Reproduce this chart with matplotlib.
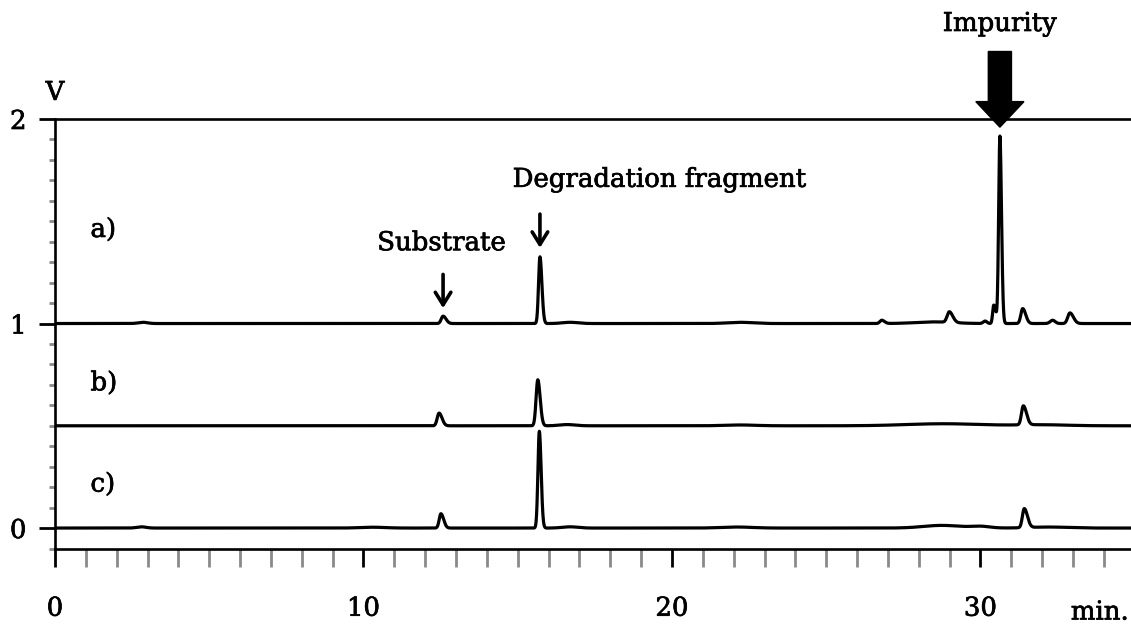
import numpy as np
import matplotlib
matplotlib.use("Agg")
import matplotlib.pyplot as plt
import matplotlib.patheffects as pe

# Retention-time axis (min)
time = np.arange(0.0, 35.0, 0.005)

# Peak tables: retention time (min), height (V), width sigma (min), tailing ratio
a_pos    = [2.85, 12.58, 15.72, 16.7, 22.2, 26.8, 28.5, 28.99, 30.15, 30.43, 30.63, 31.37, 32.34, 32.9]
a_height = [0.006, 0.036, 0.326, 0.006, 0.006, 0.016, 0.008, 0.052, 0.012, 0.09, 0.915, 0.073, 0.016, 0.052]
a_sigma  = [0.15, 0.06, 0.045, 0.25, 0.4, 0.06, 0.6, 0.07, 0.06, 0.035, 0.04, 0.06, 0.08, 0.07]
a_tail   = [1.0, 1.6, 1.4, 1.0, 1.0, 1.5, 1.0, 1.6, 1.0, 2.0, 1.3, 1.6, 1.0, 1.6]

b_pos    = [12.45, 15.65, 16.6, 22.2, 28.8, 31.39, 32.0]
b_height = [0.062, 0.225, 0.006, 0.004, 0.01, 0.093, 0.005]
b_sigma  = [0.06, 0.055, 0.25, 0.5, 1.2, 0.06, 0.8]
b_tail   = [1.6, 1.4, 1.0, 1.0, 1.0, 1.7, 1.0]

c_pos    = [2.8, 10.3, 12.51, 15.7, 16.7, 22.1, 28.75, 30.0, 31.42, 32.2]
c_height = [0.006, 0.004, 0.07, 0.473, 0.006, 0.005, 0.013, 0.008, 0.093, 0.005]
c_sigma  = [0.15, 0.4, 0.055, 0.045, 0.25, 0.5, 0.6, 0.3, 0.06, 0.6]
c_tail   = [1.0, 1.0, 1.6, 1.3, 1.0, 1.0, 1.0, 1.0, 1.7, 1.0]

# Baseline offsets of the stacked traces (V)
offsets = {"a)": 1.0, "b)": 0.5, "c)": 0.0}

x_major = [0, 10, 20, 30]
y_major = [0, 1, 2]


def trace(pos, height, sigma, tail):
    """Sum of slightly tailing Gaussian peaks."""
    y = np.zeros_like(time)
    for p, h, s, t in zip(pos, height, sigma, tail):
        sd = np.where(time < p, s, s * t)
        y += h * np.exp(-0.5 * ((time - p) / sd) ** 2)
    return y


plt.rcParams["font.family"] = ["DejaVu Serif"]
FS = 18.7
heavy = [pe.withStroke(linewidth=0.5, foreground="black")]

fig = plt.figure(figsize=(11.31, 6.26), dpi=100)
ax = fig.add_axes([55 / 1131, 77.5 / 626, 1 - 55 / 1131, 429.5 / 626])
ax.set_xlim(0, 34.88)
ax.set_ylim(-0.1, 2.0)

series = {
    "a)": trace(a_pos, a_height, a_sigma, a_tail),
    "b)": trace(b_pos, b_height, b_sigma, b_tail),
    "c)": trace(c_pos, c_height, c_sigma, c_tail),
}
for name, y in series.items():
    ax.plot(time, y + offsets[name], color="black", lw=2.3,
            solid_joinstyle="round", solid_capstyle="butt", clip_on=False)


def label(x, y, s, **kw):
    t = ax.text(x, y, s, fontsize=FS, va="center", clip_on=False, **kw)
    t.set_path_effects(heavy)
    return t


# Trace labels
label_y = {"a)": 1.46, "b)": 0.71, "c)": 0.215}
for name, yy in label_y.items():
    label(1.15, yy, name, ha="left")

# Spines
for side in ("left", "bottom", "top"):
    ax.spines[side].set_linewidth(1.9)
    ax.spines[side].set_color("black")
ax.spines["right"].set_visible(False)

gray = "#8a8a8a"
# X ticks
ax.set_xticks(x_major)
ax.set_xticks([v for v in range(1, 35) if v % 10 != 0], minor=True)
ax.tick_params(axis="x", which="major", direction="out", length=13, width=2.0,
               color="black", labelsize=FS, pad=21)
ax.tick_params(axis="x", which="minor", direction="out", length=6, width=2.0, color=gray)
for t in ax.xaxis.get_minor_ticks():
    if abs(t.get_loc() % 5) < 1e-6:
        t.tick1line.set_markersize(13)

# Y ticks
ax.set_yticks(y_major)
ax.set_yticks([round(v, 1) for v in np.arange(-0.1, 2.0, 0.1) if abs(v - round(v)) > 1e-6],
              minor=True)
ax.tick_params(axis="y", which="major", direction="out", length=11.5, width=2.0,
               color="black", labelsize=FS, pad=9)
ax.tick_params(axis="y", which="minor", direction="out", length=4.3, width=2.0, color=gray)
for t in ax.yaxis.get_minor_ticks():
    if abs(t.get_loc() - 0.5) < 1e-6 or abs(t.get_loc() - 1.5) < 1e-6:
        t.tick1line.set_markersize(11.5)

for t in ax.get_xticklabels() + ax.get_yticklabels():
    t.set_path_effects(heavy)

# Unit labels
label(0.0, 2.13, "V", ha="center")
mt = fig.text(1100 / 1131, 1 - 612 / 626, "min.", fontsize=FS, ha="center", va="center")
mt.set_path_effects(heavy)

# Peak annotations
sub_x, frag_x, imp_x = a_pos[1], a_pos[2], a_pos[10]
ax.annotate("", xy=(sub_x, 1.075), xytext=(sub_x, 1.24),
            arrowprops=dict(arrowstyle="->, head_length=0.45, head_width=0.28",
                            lw=2.6, color="black", mutation_scale=20,
                            shrinkA=0, shrinkB=0))
label(sub_x - 0.05, 1.395, "Substrate", ha="center")

ax.annotate("", xy=(frag_x, 1.37), xytext=(frag_x, 1.535),
            arrowprops=dict(arrowstyle="->, head_length=0.45, head_width=0.28",
                            lw=2.6, color="black", mutation_scale=20,
                            shrinkA=0, shrinkB=0))
label(19.6, 1.705, "Degradation fragment", ha="center")

ax.arrow(imp_x, 2.33, 0, -0.37, width=0.75, head_width=1.56, head_length=0.125,
         length_includes_head=True, color="black", clip_on=False)
label(imp_x, 2.467, "Impurity", ha="center")

fig.savefig("out.png", dpi=100)
